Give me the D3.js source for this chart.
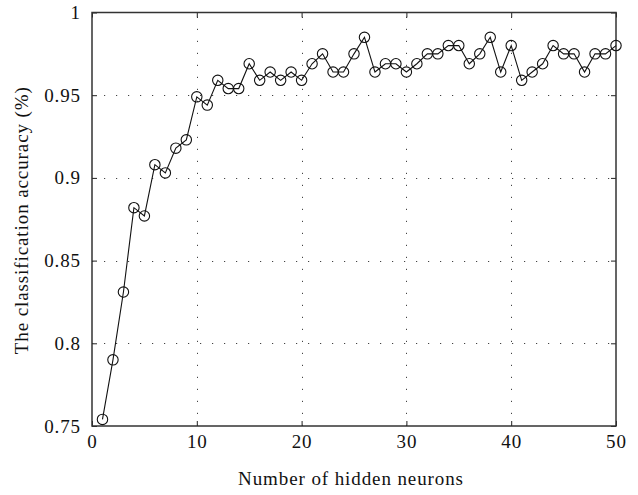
<!DOCTYPE html>
<html>
<head>
<meta charset="utf-8">
<script src="https://cdn.jsdelivr.net/npm/d3@7"></script>
<style>
	body { margin: 0; background: #fff; }
	text { font-family: "Liberation Serif", "DejaVu Serif", serif; fill: #111; }
</style>
</head>
<body>
<svg id="chart" width="638" height="495"></svg>
<script>
// hidden neurons 1..50
var neurons = d3.range(1, 51);
var accuracy = [
	0.754, 0.790, 0.831, 0.882, 0.877, 0.908, 0.903, 0.918, 0.923, 0.949,
	0.944, 0.959, 0.954, 0.954, 0.969, 0.959, 0.964, 0.959, 0.964, 0.959,
	0.969, 0.975, 0.964, 0.964, 0.975, 0.985, 0.964, 0.969, 0.969, 0.964,
	0.969, 0.975, 0.975, 0.980, 0.980, 0.969, 0.975, 0.985, 0.964, 0.980,
	0.959, 0.964, 0.969, 0.980, 0.975, 0.975, 0.964, 0.975, 0.975, 0.980
];
var xTicks = [0, 10, 20, 30, 40, 50];
var yTicks = [0.75, 0.8, 0.85, 0.9, 0.95, 1];

var plotL = 92, plotR = 616, plotT = 12.5, plotB = 426;
var fontSize = 19, spacing = 0.9;

var svg = d3.select('#chart');

var x = d3.scaleLinear().domain([0, 50]).range([plotL, plotR]);
var y = d3.scaleLinear().domain([0.75, 1]).range([plotB, plotT]);

// dotted grid
var grid = svg.append('g')
	.attr('stroke', '#444')
	.attr('stroke-width', 1)
	.attr('stroke-dasharray', '1.2,10.8');

grid.selectAll('line.gx')
	.data(xTicks.slice(1, -1))
	.enter().append('line')
	.attr('class', 'gx')
	.attr('x1', function(d) { return Math.round(x(d)) + 0.5; })
	.attr('x2', function(d) { return Math.round(x(d)) + 0.5; })
	.attr('y1', plotB)
	.attr('y2', plotT);

grid.selectAll('line.gy')
	.data(yTicks.slice(1, -1))
	.enter().append('line')
	.attr('class', 'gy')
	.attr('x1', plotL)
	.attr('x2', plotR)
	.attr('y1', function(d) { return Math.round(y(d)) + 0.5; })
	.attr('y2', function(d) { return Math.round(y(d)) + 0.5; });

// axes, ticks pointing inward
svg.append('g')
	.attr('transform', 'translate(0,' + plotB + ')')
	.call(d3.axisBottom(x).tickValues(xTicks).tickSize(-5).tickPadding(9).tickFormat(d3.format('d')));

svg.append('g')
	.attr('transform', 'translate(' + plotL + ',0)')
	.call(d3.axisLeft(y).tickValues(yTicks).tickSize(-5).tickPadding(11).tickFormat(function(d) { return String(d); }));

svg.append('g')
	.attr('transform', 'translate(0,' + plotT + ')')
	.call(d3.axisTop(x).tickValues(xTicks).tickSize(-5).tickFormat(''));

svg.append('g')
	.attr('transform', 'translate(' + plotR + ',0)')
	.call(d3.axisRight(y).tickValues(yTicks).tickSize(-5).tickFormat(''));

svg.selectAll('.domain').remove();
svg.selectAll('.tick line').attr('stroke', '#222');
svg.selectAll('.tick text')
	.attr('font-size', fontSize)
	.attr('letter-spacing', spacing)
	.attr('font-family', '"Liberation Serif", serif');

// frame
svg.append('rect')
	.attr('x', plotL)
	.attr('y', plotT)
	.attr('width', plotR - plotL)
	.attr('height', plotB - plotT)
	.attr('fill', 'none')
	.attr('stroke', '#333')
	.attr('stroke-width', 1.5);

// series
var line = d3.line()
	.x(function(d, i) { return x(neurons[i]); })
	.y(function(d) { return y(d); });

svg.append('path')
	.datum(accuracy)
	.attr('d', line)
	.attr('fill', 'none')
	.attr('stroke', '#111')
	.attr('stroke-width', 1.1);

svg.append('g')
	.selectAll('circle')
	.data(accuracy)
	.enter().append('circle')
	.attr('cx', function(d, i) { return x(neurons[i]); })
	.attr('cy', function(d) { return y(d); })
	.attr('r', 5.2)
	.attr('fill', 'none')
	.attr('stroke', '#111')
	.attr('stroke-width', 1.1);

// titles
svg.append('text')
	.attr('x', (plotL + plotR) / 2 - 3)
	.attr('y', 485)
	.attr('text-anchor', 'middle')
	.attr('font-size', fontSize)
	.attr('letter-spacing', spacing)
	.text('Number of hidden neurons');

svg.append('text')
	.attr('transform', 'translate(28,' + ((plotT + plotB) / 2 + 1) + ') rotate(-90)')
	.attr('text-anchor', 'middle')
	.attr('font-size', fontSize)
	.attr('letter-spacing', spacing)
	.text('The classification accuracy (%)');
</script>
</body>
</html>
